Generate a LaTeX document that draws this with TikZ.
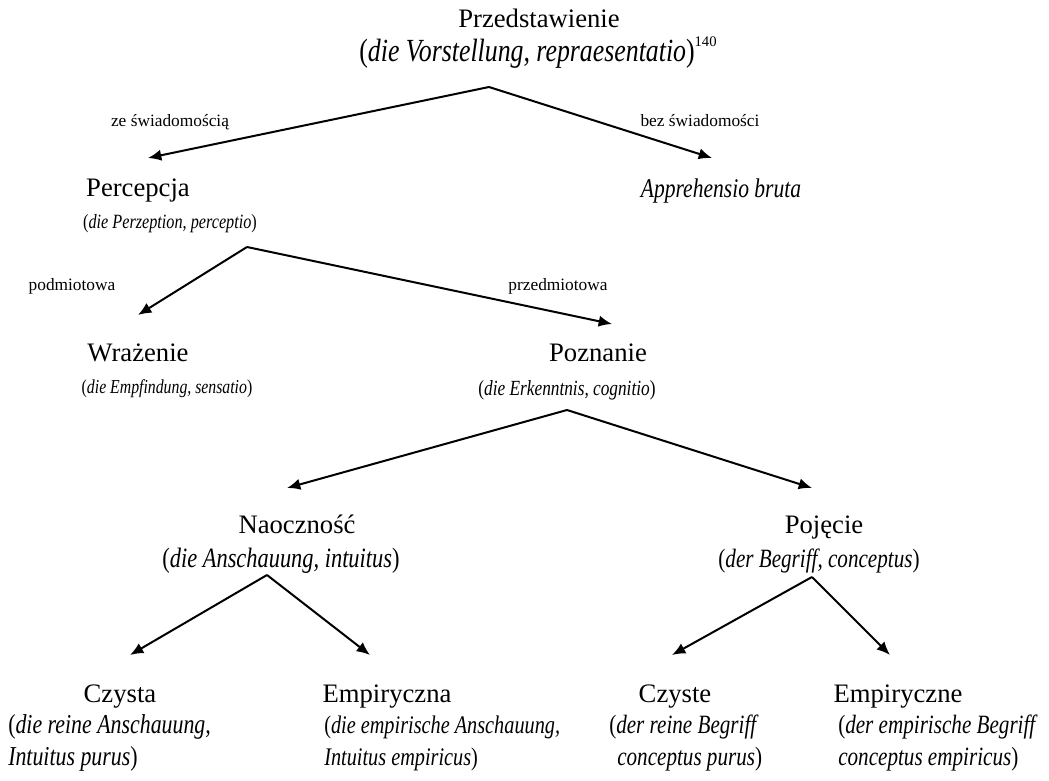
\documentclass[tikz,border=0pt]{standalone}
\usepackage{fontspec}
\setmainfont{Liberation Serif}
\newfontfamily\subfont{Liberation Serif}[FakeStretch=0.8]
\usetikzlibrary{arrows.meta}
\tikzset{
  head/.style={font=\fontsize{20}{24}\selectfont, inner sep=0pt, anchor=base},
  lab/.style={font=\fontsize{13}{15}\selectfont, inner sep=0pt, anchor=base},
  subl/.style={font=\subfont\fontsize{#1}{#1}\selectfont, inner sep=0pt, anchor=base},
  subw/.style={font=\subfont\fontsize{#1}{#1}\selectfont, inner sep=0pt, anchor=base west},
  arr/.style={line width=1.5pt, -{Latex[length=10pt,width=8.5pt]}}
}
\begin{document}
\begin{tikzpicture}[x=0.75pt,y=-0.75pt]
\useasboundingbox (0,0) rectangle (1049,781);
% level 0
\node[head] (przed) at (539,28) {Przedstawienie};
\node[subl=24.2] (przedsub) at (538,62) {({\itshape die Vorstellung, repraesentatio})\raisebox{1.05ex}{\rmfamily\fontsize{11}{11}\selectfont 140}};
\coordinate (a1) at (489,87);
\coordinate (t1l) at (148,158);
\coordinate (t1r) at (712,158);
\draw[arr] (a1) -- (t1l);
\draw[arr] (a1) -- (t1r);
\node[lab] (ze) at (170,127) {ze świadomością};
\node[lab] (bez) at (700,127) {bez świadomości};
% level 1
\node[head] (perc) at (138,196) {Percepcja};
\node[subl=15.2] (percsub) at (170,228) {({\itshape die Perzeption, perceptio})};
\node[subl=20.2] (appr) at (721,197) {\itshape Apprehensio bruta};
\coordinate (a2) at (247,247);
\coordinate (t2l) at (138,315);
\coordinate (t2r) at (612,324);
\draw[arr] (a2) -- (t2l);
\draw[arr] (a2) -- (t2r);
\node[lab] (pod) at (72,290) {podmiotowa};
\node[lab] (przedm) at (558,290) {przedmiotowa};
% level 2
\node[head] (wraz) at (138,361) {Wrażenie};
\node[subl=14.8] (wrazsub) at (167,393) {({\itshape die Empfindung, sensatio})};
\node[head] (pozn) at (598,361) {Poznanie};
\node[subl=16.2] (poznsub) at (567,395) {({\itshape die Erkenntnis, cognitio})};
\coordinate (a3) at (567,410);
\coordinate (t3l) at (287,488);
\coordinate (t3r) at (812,488);
\draw[arr] (a3) -- (t3l);
\draw[arr] (a3) -- (t3r);
% level 3
\node[head] (naocz) at (297,533) {Naoczność};
\node[subl=21] (naoczsub) at (281,567) {({\itshape die Anschauung, intuitus})};
\node[head] (poj) at (824,533) {Pojęcie};
\node[subl=19.8] (pojsub) at (819,567) {({\itshape der Begriff, conceptus})};
\coordinate (a4) at (267,575);
\coordinate (t4l) at (130,655);
\coordinate (t4r) at (370,655);
\draw[arr] (a4) -- (t4l);
\draw[arr] (a4) -- (t4r);
\coordinate (a5) at (812,577);
\coordinate (t5l) at (672,655);
\coordinate (t5r) at (890,655);
\draw[arr] (a5) -- (t5l);
\draw[arr] (a5) -- (t5r);
% level 4
\node[head] (czysta) at (120,702) {Czysta};
\node[subw=20.5] (czysta1) at (8,733) {({\itshape die reine Anschauung,}};
\node[subw=20.5] (czysta2) at (8,765) {{\itshape Intuitus purus})};
\node[head] (empa) at (387,702) {Empiryczna};
\node[subw=19] (empa1) at (324,733) {({\itshape die empirische Anschauung,}};
\node[subw=19] (empa2) at (324,765) {{\itshape Intuitus empiricus})};
\node[head] (czyste) at (675,702) {Czyste};
\node[subw=19.8] (czyste1) at (609,733) {({\itshape der reine Begriff}};
\node[subw=19.8] (czyste2) at (617,765) {{\itshape conceptus purus})};
\node[head] (empe) at (898,702) {Empiryczne};
\node[subw=19.8] (empe1) at (838,733) {({\itshape der empirische Begriff}};
\node[subw=19.8] (empe2) at (838,765) {{\itshape conceptus empiricus})};
\end{tikzpicture}
\end{document}
